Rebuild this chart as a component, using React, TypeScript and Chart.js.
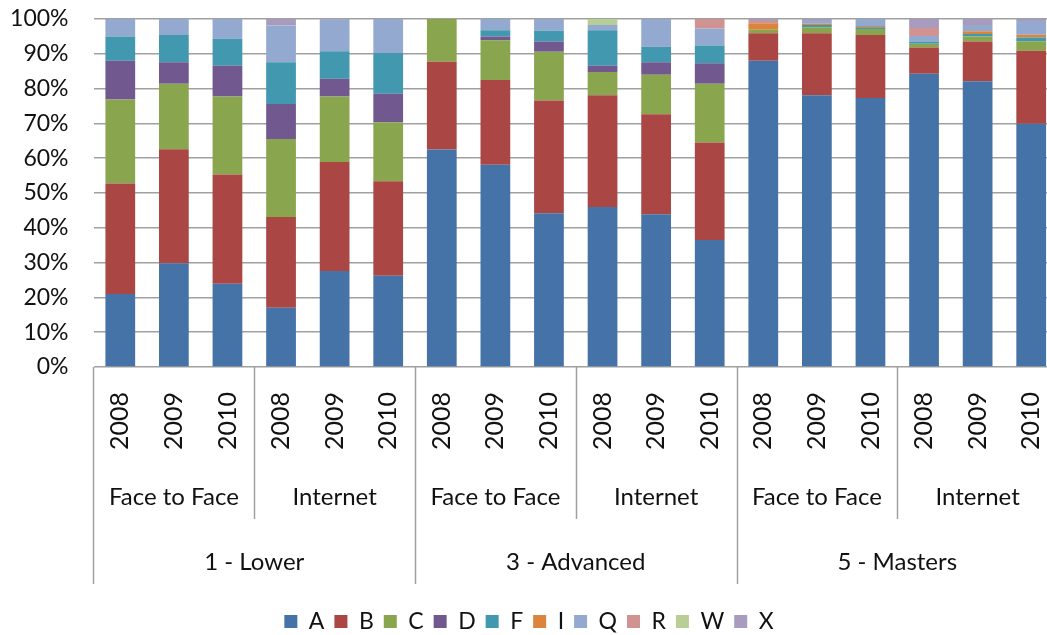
import React, { useEffect, useRef } from 'react';
import { Chart, registerables } from 'chart.js';

Chart.register(...registerables);

// ---- category hierarchy ----
const years = ['2008', '2009', '2010'];
const modes = ['Face to Face', 'Internet'];
const levels = ['1 - Lower', '3 - Advanced', '5 - Masters'];

// ---- y axis ticks (percent) ----
const yTickValues = [0, 10, 20, 30, 40, 50, 60, 70, 80, 90, 100];

// ---- series (percent of each bar), 18 bars: level > mode > year ----
const seriesNames = ['A', 'B', 'C', 'D', 'F', 'I', 'Q', 'R', 'W', 'X'];
const seriesColors = ['#4572A7', '#AA4643', '#89A54E', '#71588F', '#4198AF', '#DB843D', '#93A9CF', '#D19392', '#B9CD96', '#A99BBD'];

const A = [21.0, 29.8, 23.9, 17.0, 27.6, 26.2, 62.5, 58.1, 44.2, 46.0, 43.9, 36.5, 88.0, 78.1, 77.3, 84.3, 82.1, 69.9];
const B = [31.7, 32.8, 31.4, 26.1, 31.3, 27.2, 25.2, 24.4, 32.4, 32.1, 28.7, 28.0, 7.9, 17.8, 18.1, 7.5, 11.4, 21.0];
const C = [24.2, 18.8, 22.4, 22.4, 18.8, 16.9, 12.3, 11.4, 14.0, 6.7, 11.4, 16.9, 1.0, 1.7, 1.7, 1.1, 1.5, 2.7];
const D = [11.1, 6.2, 8.9, 10.1, 5.1, 8.2, 0, 1.1, 2.9, 1.8, 3.6, 5.9, 0, 0, 0, 0, 0, 0];
const F = [7.0, 7.8, 7.7, 12.0, 7.9, 11.7, 0, 1.8, 3.1, 10.2, 4.4, 5.1, 0, 0.7, 0.5, 0.6, 0.7, 1.1];
const I = [0, 0, 0, 0, 0, 0, 0, 0, 0, 0, 0, 0, 1.9, 0.3, 0.4, 0, 0.8, 0.8];
const Q = [5.0, 4.6, 5.7, 10.5, 9.1, 9.8, 0, 3.2, 3.4, 1.5, 8.0, 4.9, 0, 0.8, 2.0, 1.6, 1.8, 3.9];
const R = [0, 0, 0, 0, 0, 0, 0, 0, 0, 0, 0, 2.7, 0.6, 0, 0, 2.3, 0, 0];
const W = [0, 0, 0, 0, 0, 0, 0, 0, 0, 1.7, 0, 0, 0, 0, 0, 0, 0, 0];
const X = [0, 0, 0, 1.9, 0.2, 0, 0, 0, 0, 0, 0, 0, 0.6, 0.6, 0, 2.6, 1.7, 0.6];

const seriesValues = [A, B, C, D, F, I, Q, R, W, X];

const categories = levels.flatMap((level) =>
  modes.flatMap((mode) => years.map((year) => ({ year, mode, level })))
);

const FONT = 'Lato, "Open Sans", sans-serif';
const TEXT = '#111111';
const LINE = '#a0a0a0';

const groupAxisPlugin = {
  id: 'groupAxis',
  afterDraw(chart: any) {
    const { ctx, chartArea, scales } = chart;
    const xs = scales.x;
    const n = categories.length;
    const step = (xs.getPixelForValue(n - 1) - xs.getPixelForValue(0)) / (n - 1);
    const bottom = chartArea.bottom;
    const edge = (k: number) => xs.getPixelForValue(k) - step / 2;
    ctx.save();
    ctx.fillStyle = TEXT;

    // years (rotated)
    ctx.font = `25px ${FONT}`;
    categories.forEach((c, i) => {
      ctx.save();
      ctx.translate(xs.getPixelForValue(i), bottom + 25);
      ctx.rotate(-Math.PI / 2);
      ctx.textAlign = 'right';
      ctx.textBaseline = 'middle';
      ctx.fillText(c.year, 0, 0);
      ctx.restore();
    });

    // modes
    const perMode = years.length;
    const perLevel = years.length * modes.length;
    ctx.font = `24px ${FONT}`;
    ctx.textAlign = 'center';
    ctx.textBaseline = 'middle';
    for (let g = 0; g < levels.length * modes.length; g++) {
      const x0 = edge(g * perMode);
      const x1 = edge((g + 1) * perMode);
      ctx.fillText(modes[g % modes.length], (x0 + x1) / 2, bottom + 130);
    }
    // levels
    for (let l = 0; l < levels.length; l++) {
      const x0 = edge(l * perLevel);
      const x1 = edge((l + 1) * perLevel);
      ctx.fillText(levels[l], (x0 + x1) / 2, bottom + 195);
    }

    // separators
    ctx.strokeStyle = LINE;
    ctx.lineWidth = 1.5;
    for (let k = 0; k <= n; k += perMode) {
      const isOuter = k % perLevel === 0;
      const px = Math.round(edge(k)) + 0.5;
      ctx.beginPath();
      ctx.moveTo(px, bottom);
      ctx.lineTo(px, bottom + (isOuter ? 217 : 152));
      ctx.stroke();
    }
    ctx.restore();
  },
};

export default function App() {
  const canvasRef = useRef<HTMLCanvasElement | null>(null);

  useEffect(() => {
    const canvas = canvasRef.current;
    if (!canvas) return;
    Chart.defaults.font.family = FONT;
    const chart = new Chart(canvas, {
      type: 'bar',
      data: {
        labels: categories.map((c) => `${c.level} | ${c.mode} | ${c.year}`),
        datasets: seriesNames.map((name, i) => ({
          label: name,
          data: seriesValues[i],
          backgroundColor: seriesColors[i],
          borderWidth: 0,
          barPercentage: 0.555,
          categoryPercentage: 1.0,
        })),
      },
      options: {
        responsive: false,
        animation: false,
        layout: { padding: { top: 0, right: 0, bottom: 2, left: 0 } },
        plugins: {
          legend: {
            position: 'bottom',
            labels: {
              boxWidth: 13,
              boxHeight: 13,
              padding: 10,
              color: TEXT,
              font: { size: 23, family: FONT },
            },
          },
          tooltip: { enabled: false },
        },
        scales: {
          x: {
            stacked: true,
            grid: { display: false },
            border: { display: false },
            ticks: { display: false },
            afterFit: (scale: any) => {
              scale.height = 233;
            },
          },
          y: {
            stacked: true,
            min: 0,
            max: 100,
            afterBuildTicks: (scale: any) => {
              scale.ticks = yTickValues.map((v) => ({ value: v }));
            },
            ticks: {
              padding: 25,
              color: TEXT,
              font: { size: 23, family: FONT },
              callback: (v: any) => `${v}%`,
            },
            grid: { color: LINE, lineWidth: 1.5, drawTicks: false },
            border: { display: false },
            afterFit: (scale: any) => {
              scale.width = 93.5;
              scale.paddingTop = 19;
              scale.paddingBottom = 0;
            },
          },
        },
      },
      plugins: [groupAxisPlugin],
    });
    return () => chart.destroy();
  }, []);

  return (
    <div style={{ position: 'fixed', left: 0, top: 0, width: 1047, height: 635, overflow: 'hidden', background: '#fff' }}>
      <canvas ref={canvasRef} width={1058} height={645} style={{ display: 'block' }} />
    </div>
  );
}
